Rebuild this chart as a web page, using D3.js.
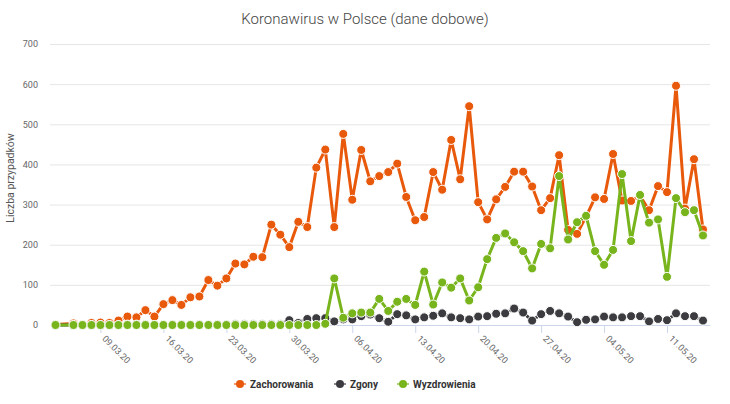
<!DOCTYPE html>
<html><head><meta charset="utf-8">
<script src="https://cdn.jsdelivr.net/npm/d3@7"></script>
<style>
body{margin:0;background:#fff;}
svg{display:block;font-family:Roboto,"Noto Sans",sans-serif;}
</style>
</head><body>
<svg id="c" width="730" height="404"></svg>
<script>
const dates = [
"2020-03-04","2020-03-06","2020-03-07","2020-03-08","2020-03-09","2020-03-10","2020-03-11","2020-03-12","2020-03-13","2020-03-14","2020-03-15",
"2020-03-16","2020-03-17","2020-03-18","2020-03-19","2020-03-20","2020-03-21","2020-03-22","2020-03-23","2020-03-24","2020-03-25","2020-03-26",
"2020-03-27","2020-03-28","2020-03-29","2020-03-30","2020-03-31",
"2020-04-01","2020-04-02","2020-04-03","2020-04-04","2020-04-05","2020-04-06","2020-04-07","2020-04-08","2020-04-09","2020-04-10",
"2020-04-11","2020-04-12","2020-04-13","2020-04-14","2020-04-15","2020-04-16","2020-04-17","2020-04-18","2020-04-19","2020-04-20",
"2020-04-21","2020-04-22","2020-04-23","2020-04-24","2020-04-25","2020-04-26","2020-04-27","2020-04-28","2020-04-29","2020-04-30",
"2020-05-01","2020-05-02","2020-05-03","2020-05-04","2020-05-05","2020-05-06","2020-05-07","2020-05-08","2020-05-09","2020-05-10",
"2020-05-11","2020-05-12","2020-05-13","2020-05-14","2020-05-15"];

const zachorowania = [
1,4,1,5,6,5,11,21,19,37,21,
52,62,50,69,71,112,98,116,153,151,170,
169,250,225,194,257,
244,392,437,244,476,312,436,358,371,381,
402,319,261,269,381,337,461,363,545,306,
263,313,344,382,382,345,286,316,423,237,
227,270,318,314,426,310,309,322,286,346,
331,596,290,413,238];

const zgony = [
0,0,0,0,0,0,0,1,1,1,0,
0,1,1,0,1,0,1,1,2,2,2,
2,2,2,12,5,
15,17,17,9,14,14,22,26,17,8,
27,24,14,19,23,29,19,17,14,21,
22,28,29,41,31,11,27,35,29,21,
7,13,14,21,19,19,22,22,9,15,
12,29,22,22,11];

const wyzdrowienia = [
0,0,0,0,0,0,0,0,0,0,0,
0,0,0,0,0,0,0,0,0,0,0,
0,0,0,0,0,
0,0,3,116,18,29,31,31,65,35,
58,65,50,133,51,106,93,116,61,94,
164,217,228,206,184,141,202,191,371,213,
256,272,184,150,187,376,209,324,255,263,
120,316,281,286,223];

const seriesNames = ["Zachorowania","Zgony","Wyzdrowienia"];
const seriesColors = ["#e8590c","#3c3c40","#78b41c"];
const tickDates = ["2020-03-09","2020-03-16","2020-03-23","2020-03-30","2020-04-06","2020-04-13","2020-04-20","2020-04-27","2020-05-04","2020-05-11"];
const yTicks = [0,100,200,300,400,500,600,700];

const parse = d3.utcParse("%Y-%m-%d");
const svg = d3.select("#c");
const W = 730;
const plotL = 50, plotR = 710, plotT = 44, plotB = 325;

const x = d3.scaleUtc().domain([parse("2020-03-04"), parse("2020-05-15")]).range([55.5, 703]);
const y = d3.scaleLinear().domain([0,700]).range([plotB, plotT]);

// title
svg.append("text").attr("x", W/2).attr("y", 24).attr("text-anchor","middle")
  .attr("font-size", 15).attr("fill","#444").attr("font-weight",300)
  .text("Koronawirus w Polsce (dane dobowe)");

// y axis + grid
const yAxis = d3.axisLeft(y).tickValues(yTicks).tickSize(-(plotR-plotL)).tickPadding(12).tickFormat(d3.format("d"));
const gy = svg.append("g").attr("transform",`translate(${plotL},0)`).call(yAxis);
gy.select(".domain").remove();
gy.selectAll(".tick line").attr("stroke","#e6e6e6").attr("stroke-width",1);
gy.selectAll(".tick text").attr("font-size",9).attr("fill","#666").attr("font-family","Roboto,sans-serif");

svg.append("text").attr("transform","translate(14,178) rotate(-90)").attr("text-anchor","middle")
  .attr("font-size",10.5).attr("fill","#555").text("Liczba przypadków");

// x axis
const xAxis = d3.axisBottom(x).tickValues(tickDates.map(parse)).tickSize(8).tickFormat(d3.utcFormat("%d.%m.%y"));
const gx = svg.append("g").attr("transform",`translate(0,${plotB})`).call(xAxis);
gx.select(".domain").remove();
gx.selectAll(".tick line").attr("stroke","#ccd6eb");
gx.selectAll(".tick text").attr("font-size",9).attr("fill","#666").attr("font-family","Roboto,sans-serif")
  .attr("text-anchor","start").attr("x",0).attr("y",0).attr("dy","0.35em")
  .attr("transform","translate(3,12) rotate(45)");
svg.append("line").attr("x1",plotL).attr("x2",plotR).attr("y1",plotB+0.5).attr("y2",plotB+0.5).attr("stroke","#ccd6eb");

// series
const allValues = [zachorowania, zgony, wyzdrowienia];
const line = d3.line().x(d=>x(d.date)).y(d=>y(d.v));
allValues.forEach((vals,i)=>{
  const data = dates.map((d,k)=>({date:parse(d), v:vals[k]}));
  const g = svg.append("g");
  g.append("path").datum(data).attr("d",line).attr("fill","none")
    .attr("stroke",seriesColors[i]).attr("stroke-width",3).attr("stroke-linejoin","round").attr("stroke-linecap","round");
  g.selectAll("circle").data(data).join("circle")
    .attr("cx",d=>x(d.date)).attr("cy",d=>y(d.v)).attr("r",4.5)
    .attr("fill",seriesColors[i]).attr("stroke","#fff").attr("stroke-width",1);
});

// legend
const legendX = [240, 340, 403];
const lg = svg.append("g");
seriesNames.forEach((n,i)=>{
  const cx = legendX[i], cy = 384;
  lg.append("line").attr("x1",cx-6).attr("x2",cx+6).attr("y1",cy).attr("y2",cy)
    .attr("stroke",seriesColors[i]).attr("stroke-width",2).attr("opacity",0.6);
  lg.append("circle").attr("cx",cx).attr("cy",cy).attr("r",4).attr("fill",seriesColors[i]);
  lg.append("text").attr("x",cx+10).attr("y",cy).attr("dy","0.35em").attr("font-size",10)
    .attr("font-weight","bold").attr("fill","#333").text(n);
});
</script>
</body></html>
